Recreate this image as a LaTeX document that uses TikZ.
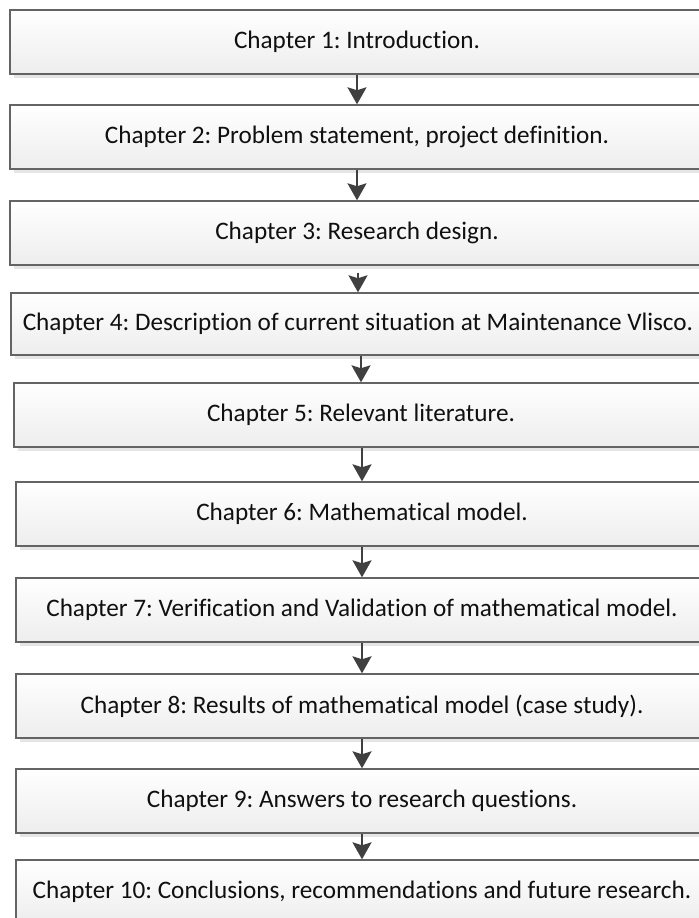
\documentclass[tikz,border=0pt]{standalone}
\usepackage{fontspec}
\setmainfont{Carlito}[Ligatures={NoCommon}]
\frenchspacing
\usetikzlibrary{arrows.meta,shadows}
\definecolor{edge}{HTML}{646464}
\definecolor{arr}{HTML}{404040}
\definecolor{txt}{HTML}{101010}
\tikzset{
  chap/.style={draw=edge, line width=1.4bp, rectangle, top color=white, bottom color=black!7,
    text=txt, font=\fontsize{25.2bp}{30bp}\selectfont\frenchspacing, inner sep=0pt,
    drop shadow={shadow xshift=4bp, shadow yshift=-4bp, fill=black!10, opacity=1}},
  flow/.style={draw=arr, line width=2.2bp, -{Stealth[length=17bp,width=19bp,inset=3bp]}}
}
\begin{document}
\begin{tikzpicture}[x=1bp,y=-1bp]
\useasboundingbox (0,0) rectangle (699,918);
\clip (0,0) rectangle (699,918);
\fill[white] (0,0) rectangle (699,918);
\node[chap, minimum width=694bp, minimum height=64bp] (c1) at (357,42) {Chapter 1: Introduction.};
\node[chap, minimum width=694bp, minimum height=64bp] (c2) at (357,137) {Chapter 2: Problem statement, project definition.};
\node[chap, minimum width=694bp, minimum height=64bp] (c3) at (357,233) {Chapter 3: Research design.};
\node[chap, minimum width=694bp, minimum height=62bp] (c4) at (358,324) {Chapter 4: Description of current situation at Maintenance Vlisco.};
\node[chap, minimum width=694bp, minimum height=64bp] (c5) at (361,415) {Chapter 5: Relevant literature.};
\node[chap, minimum width=692bp, minimum height=64bp] (c6) at (362,514) {Chapter 6: Mathematical model.};
\node[chap, minimum width=692bp, minimum height=64bp] (c7) at (362,610) {Chapter 7: Verification and Validation of mathematical model.};
\node[chap, minimum width=692bp, minimum height=64bp] (c8) at (362,706) {Chapter 8: Results of mathematical model (case study).};
\node[chap, minimum width=692bp, minimum height=64bp] (c9) at (362,801) {Chapter 9: Answers to research questions.};
\node[chap, minimum width=692bp, minimum height=64bp] (c10) at (362,892) {Chapter 10: Conclusions, recommendations and future research.};
\draw[flow] (c1.south -| 357,0) -- (c2.north -| 357,0);
\draw[flow] (c2.south -| 357,0) -- (c3.north -| 357,0);
\draw[flow, shorten <=7bp] (c3.south -| 358,0) -- (c4.north -| 358,0);
\draw[flow] (c4.south -| 361,0) -- (c5.north -| 361,0);
\draw[flow] (c5.south -| 362,0) -- (c6.north -| 362,0);
\draw[flow] (c6.south -| 362,0) -- (c7.north -| 362,0);
\draw[flow] (c7.south -| 362,0) -- (c8.north -| 362,0);
\draw[flow] (c8.south -| 362,0) -- (c9.north -| 362,0);
\draw[flow] (c9.south -| 362,0) -- (c10.north -| 362,0);
\end{tikzpicture}
\end{document}
